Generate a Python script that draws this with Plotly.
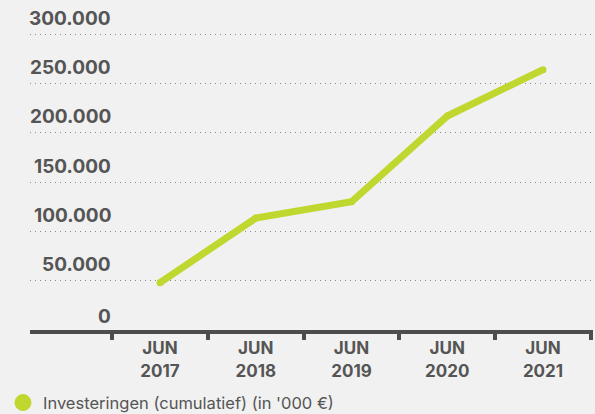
import plotly.graph_objects as go

# Data
categories = ["JUN<br>2017", "JUN<br>2018", "JUN<br>2019", "JUN<br>2020", "JUN<br>2021"]
investments = [48000, 113500, 130000, 217000, 264000]
y_ticks = [0, 50000, 100000, 150000, 200000, 250000, 300000]
y_tick_labels = ["0", "50.000", "100.000", "150.000", "200.000", "250.000", "300.000"]
series_name = "Investeringen (cumulatief) (in '000 €)"

GREEN = "#c0d72f"
GRAY = "#555555"
BG = "#f1f1f1"
FONT = "Inter"

fig = go.Figure()
fig.add_trace(go.Scatter(
    x=categories, y=investments, mode="lines+markers",
    line=dict(color=GREEN, width=7),
    marker=dict(color=GREEN, size=7),
    showlegend=False, hoverinfo="skip",
))
fig.add_trace(go.Scatter(
    x=[None], y=[None], mode="markers", name=series_name,
    marker=dict(color=GREEN, size=16, line=dict(color=GREEN, width=1)),
    showlegend=True,
))

for v, t in zip(y_ticks, y_tick_labels):
    fig.add_annotation(
        x=0.1474, xref="paper", y=v, yref="y",
        text=t, showarrow=False, xanchor="right", yanchor="middle",
        yshift=16 if v else 14,
        font=dict(family=FONT, size=19, color=GRAY, weight="bold"),
    )

fig.update_layout(
    width=595, height=414,
    margin=dict(l=30, r=2, t=10, b=84),
    paper_bgcolor=BG, plot_bgcolor=BG,
    font=dict(family=FONT, color=GRAY),
    xaxis=dict(
        type="category", range=[-1.358, 4.522],
        showgrid=False, zeroline=False,
        showline=True, linecolor="#4d4d4d", linewidth=4,
        ticks="outside", tickson="boundaries", tickcolor="#4d4d4d",
        tickwidth=4, ticklen=6,
        tickfont=dict(family=FONT, size=17, color=GRAY, weight="bold"),
    ),
    yaxis=dict(
        range=[0, 324544], tickvals=y_ticks[1:], showticklabels=False,
        showgrid=True, gridcolor="#8a8a8a", gridwidth=1, griddash="1px,4px",
        zeroline=False, showline=False,
    ),
    legend=dict(
        xref="container", yref="container", x=0.005, y=0.027,
        xanchor="left", yanchor="middle", orientation="h",
        font=dict(family=FONT, size=16.5, color=GRAY),
        bgcolor="rgba(0,0,0,0)",
    ),
)

fig.write_html("out.html")
